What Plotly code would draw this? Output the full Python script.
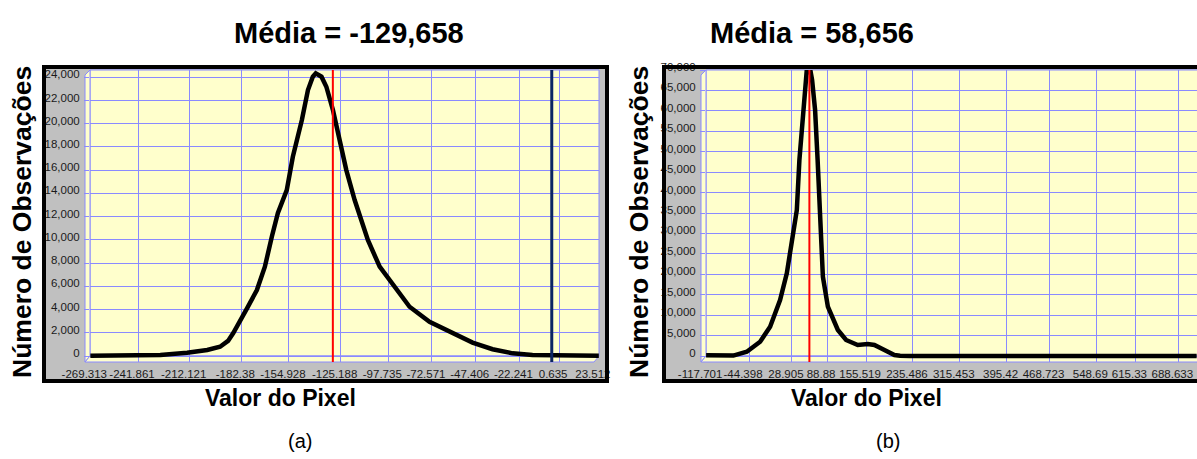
import plotly.graph_objects as go

W, H = 1197, 459

# ---- data ----
left_x = [-269.3, -250.0, -229.0, -213.6, -202.0, -194.6, -190.0, -187.0, -183.0, -179.0,
          -173.4, -168.8, -164.8, -161.3, -156.2, -152.7, -147.5, -144.0, -141.2, -139.5,
          -136.2, -133.4, -129.6, -125.7, -121.9, -117.1, -114.2, -109.5, -102.7, -95.1,
          -85.5, -74.0, -60.6, -49.2, -37.7, -26.2, -14.7, 0.0, 23.5]
left_y = [30, 50, 90, 280, 520, 800, 1300, 1980, 3000, 4130,
          5680, 7690, 10270, 12310, 14290, 17160, 20320, 22900, 24050, 24340,
          24050, 23190, 21180, 18600, 16010, 13430, 11990, 9990, 7690, 6110,
          4240, 2950, 1950, 1150, 580, 230, 90, 40, 30]

right_x = [-117.7, -95.0, -71.1, -48.2, -25.5, -8.4, 8.6, 20.1, 28.6, 37.2,
           41.6, 49.6, 54.2, 57.0, 59.5, 63.3, 68.4, 72.7, 76.1, 79.8,
           81.7, 90.2, 98.8, 107.3, 121.3, 141.2, 158.3, 169.7, 186.8, 203.9,
           213.5, 230.6, 400.0, 720.0]
right_y = [200, 150, 100, 1050, 3500, 7170, 13700, 20240, 27580, 35730,
           47970, 62660, 70000, 70600, 70600, 67550, 60200, 48000, 35000, 25200,
           19400, 12070, 8810, 6360, 3920, 2690, 2940, 2690, 1470, 250,
           70, 0, 0, 0]

left_mean = -129.658
right_mean = 58.656
left_marker = -3.6

left_xticks = [-269.313, -241.861, -212.121, -182.38, -154.928, -125.188, -97.735,
               -72.571, -47.406, -22.241, 0.635, 23.512]
left_xtext = ["-269.313", "-241.861", "-212.121", "-182.38", "-154.928", "-125.188",
              "-97.735", "-72.571", "-47.406", "-22.241", "0.635", "23.512"]
right_xticks = [-117.701, -44.398, 28.905, 88.88, 155.519, 235.486, 315.453, 395.42,
                468.723, 548.69, 615.33, 688.633]
right_xtext = ["-117.701", "-44.398", "28.905", "88.88", "155.519", "235.486", "315.453",
               "395.42", "468.723", "548.69", "615.33", "688.633"]
left_yticks = list(range(0, 24001, 2000))
left_ytext = ["0", "2,000", "4,000", "6,000", "8,000", "10,000", "12,000", "14,000",
              "16,000", "18,000", "20,000", "22,000", "24,000"]
right_yticks = list(range(0, 70001, 5000))
right_ytext = ["0", "5,000", "10,000", "15,000", "20,000", "25,000", "30,000", "35,000",
               "40,000", "45,000", "50,000", "55,000", "60,000", "65,000", "70,000"]

FONT = "Liberation Sans, Arial, sans-serif"
GRID = "#8a8aff"
YELLOW = "#ffffcc"
GRAY = "#c0c0c0"


def px(x):
    return x / W


def py(y):
    return 1 - y / H


def rect(x0, y0, x1, y1, **kw):
    return dict(type="rect", xref="paper", yref="paper",
                x0=px(x0), x1=px(x1), y0=py(y1), y1=py(y0), **kw)


def poly(points, **kw):
    path = "M " + " L ".join(f"{px(a)},{py(b)}" for a, b in points) + " Z"
    return dict(type="path", xref="paper", yref="paper", path=path, **kw)


fig = go.Figure()

fig.add_trace(go.Scatter(x=left_x, y=left_y, mode="lines", xaxis="x", yaxis="y",
                         line=dict(color="black", width=4.5), showlegend=False))
fig.add_trace(go.Scatter(x=[left_marker, left_marker], y=[-600, 25000], mode="lines",
                         xaxis="x", yaxis="y", line=dict(color="#0b2463", width=3),
                         showlegend=False))
fig.add_trace(go.Scatter(x=[left_mean, left_mean], y=[-600, 25000], mode="lines",
                         xaxis="x", yaxis="y", line=dict(color="red", width=2),
                         showlegend=False))

fig.add_trace(go.Scatter(x=right_x, y=right_y, mode="lines", xaxis="x2", yaxis="y2",
                         line=dict(color="black", width=4.5), showlegend=False))
fig.add_trace(go.Scatter(x=[right_mean, right_mean], y=[-1500, 71000], mode="lines",
                         xaxis="x2", yaxis="y2", line=dict(color="red", width=2),
                         showlegend=False))

tickfont = dict(family=FONT, size=11.5, color="#1a1a1a")
common_x = dict(showgrid=True, gridcolor=GRID, gridwidth=1, zeroline=False,
                showline=False, ticks="", tickfont=tickfont, ticklabelshift=-6,
                ticklabelstandoff=3, tickangle=0, automargin=False, fixedrange=True)
common_y = dict(showgrid=True, gridcolor=GRID, gridwidth=1, zeroline=False,
                showline=False, ticks="outside", ticklen=5, tickcolor=GRID,
                tickfont=tickfont, ticklabelshift=-3, ticklabelstandoff=2,
                tickangle=0, automargin=False, fixedrange=True)

fig.update_layout(
    width=W, height=H,
    margin=dict(l=0, r=0, t=0, b=0, pad=0),
    paper_bgcolor="white",
    plot_bgcolor=YELLOW,
    xaxis=dict(domain=[px(90), px(599)], range=[-269.5, 23.6], anchor="y",
               tickvals=left_xticks, ticktext=left_xtext, **common_x),
    yaxis=dict(domain=[py(362), py(70)], range=[-517, 24629], anchor="x",
               tickvals=left_yticks, ticktext=left_ytext, **common_y),
    xaxis2=dict(domain=[px(706), 1.0], range=[-117.9, 720.6], anchor="y2",
                tickvals=right_xticks, ticktext=right_xtext, **common_x),
    yaxis2=dict(domain=[py(362), py(70)], range=[-1469, 70000], anchor="x2",
                tickvals=right_yticks, ticktext=right_ytext, **common_y),
)

shapes = [
    # left panel body
    rect(44, 67, 607, 381, fillcolor=GRAY, line=dict(width=0), layer="below"),
    rect(90, 70, 599, 356, fillcolor=YELLOW, line=dict(color=GRID, width=1), layer="below"),
    poly([(85, 75), (90, 70), (90, 356), (85, 362)], fillcolor=YELLOW,
         line=dict(color=GRID, width=1), layer="below"),
    poly([(90, 356), (599, 356), (594, 362), (85, 362)], fillcolor=YELLOW,
         line=dict(color=GRID, width=1), layer="below"),
    # right panel body
    rect(664, 67, 1205, 381, fillcolor=GRAY, line=dict(width=0), layer="below"),
    rect(706, 70, 1205, 356, fillcolor=YELLOW, line=dict(color=GRID, width=1), layer="below"),
    poly([(701, 75), (706, 70), (706, 356), (701, 362)], fillcolor=YELLOW,
         line=dict(color=GRID, width=1), layer="below"),
    poly([(706, 356), (1205, 356), (1200, 362), (701, 362)], fillcolor=YELLOW,
         line=dict(color=GRID, width=1), layer="below"),
    # black frames
    rect(44, 67, 607, 381, fillcolor="rgba(0,0,0,0)", line=dict(color="black", width=4),
         layer="above"),
    rect(664, 67, 1205, 381, fillcolor="rgba(0,0,0,0)", line=dict(color="black", width=4),
         layer="above"),
]
fig.update_layout(shapes=shapes)


def label(text, x, y, size, bold=True, angle=0):
    fig.add_annotation(text=f"<b>{text}</b>" if bold else text,
                       x=px(x), y=py(y), xref="paper", yref="paper",
                       xanchor="center", yanchor="middle", showarrow=False,
                       textangle=angle,
                       font=dict(family=FONT, size=size, color="black"))


label("Média = -129,658", 349, 33, 29)
label("Média = 58,656", 812, 33, 29)
label("Número de Observações", 22, 222, 26.5, angle=-90)
label("Número de Observações", 639, 222, 26.5, angle=-90)
label("Valor do Pixel", 280, 398, 23)
label("Valor do Pixel", 866, 398, 23)
label("(a)", 300, 441, 20, bold=False)
label("(b)", 888, 441, 20, bold=False)

# the page body has a default 8px margin; drop it so the figure fills the window
fig.write_html("out.html", config={"displayModeBar": False},
               post_script="document.body.style.margin='0';")
